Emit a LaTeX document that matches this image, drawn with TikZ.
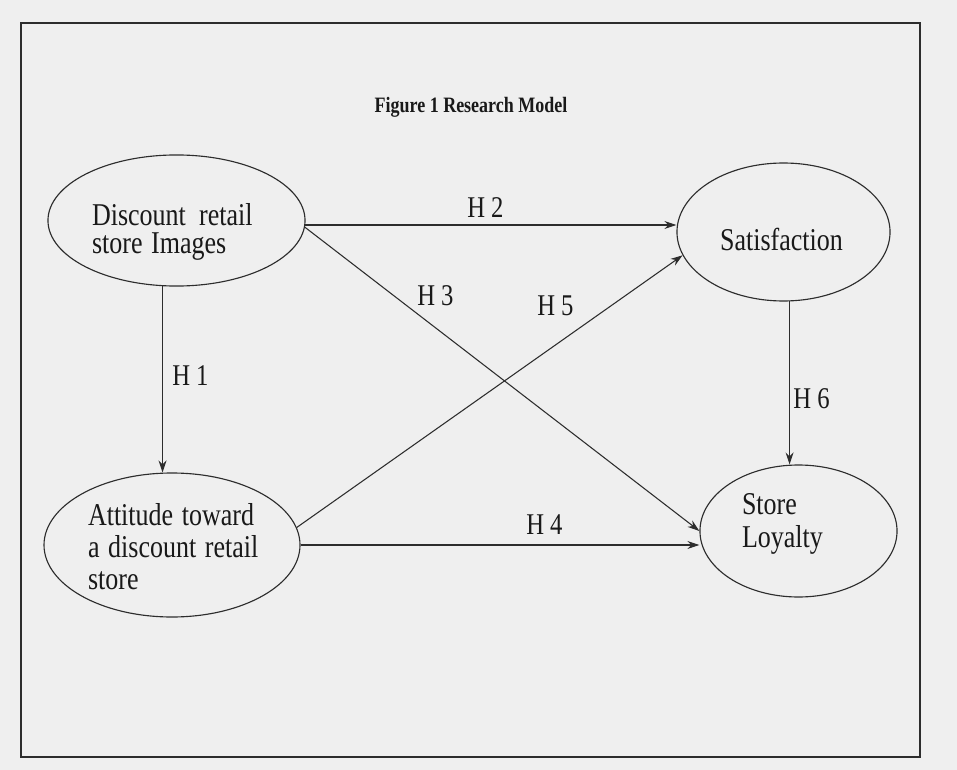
\documentclass[tikz,border=0pt]{standalone}
\usepackage{fontspec}
\usepackage{graphicx}
\setmainfont{Liberation Serif}
\usetikzlibrary{shapes.geometric,arrows.meta}
\definecolor{paper}{RGB}{239,239,239}
\definecolor{ink}{RGB}{45,45,45}
\definecolor{lettering}{RGB}{25,25,25}
\newcommand\tallbox[1]{\scalebox{1}[1.22]{#1}}

\begin{document}
\begin{tikzpicture}[x=0.75pt,y=-0.75pt,
    oval/.style={draw=ink,line width=0.85pt,shape=ellipse,inner sep=0pt},
    words/.style={text=lettering,align=left,inner sep=0pt,font=\fontsize{19.5}{24}\selectfont},
    hyp/.style={text=lettering,inner sep=0pt,anchor=base west,font=\fontsize{18.5}{22}\selectfont},
    link/.style={draw=ink,line width=0.8pt,-{Stealth[length=9pt,width=6pt]}}]
    \fill[paper] (0,0) rectangle (957,770);
    \draw[ink,line width=1.1pt] (21,23) rectangle (920,757);
    \node[text=lettering,anchor=base,font=\bfseries\fontsize{13.5}{16}\selectfont] (title) at (471,113) {\tallbox{Figure 1 Research Model}};

    \node[oval,minimum width=192.8pt,minimum height=98.3pt] (dis) at (176.5,220.5) {};
    \node[oval,minimum width=192pt,minimum height=108pt] (att) at (172,545) {};
    \node[oval,minimum width=159.8pt,minimum height=103.5pt] (sat) at (783.5,232) {};
    \node[oval,minimum width=147.8pt,minimum height=99pt] (loy) at (798.5,531) {};

    \node[words,text width=135pt,font=\fontsize{19.5}{21}\selectfont] (distext) at (182,232) {\tallbox{Discount\hspace{10pt}retail}\\\tallbox{store Images}};
    \node[words,text width=135pt] (atttext) at (178,546.2) {\tallbox{Attitude toward}\\\tallbox{a discount retail}\\\tallbox{store}};
    \node[words] (sattext) at (781.5,239.2) {\tallbox{Satisfaction}};
    \node[words,text width=75pt,font=\fontsize{19.5}{25}\selectfont] (loytext) at (792,524.2) {\tallbox{Store}\\\tallbox{Loyalty}};

    \draw[link] (dis.-102) -- (dis.-102 |- att.north);
    \draw[link] (dis.-2) -- (dis.-2 -| sat.west);
    \draw[link] (dis.-3) -- (loy.west);
    \draw[link] (att.east) -- (att.east -| loy.west);
    \draw[link] (att.8) -- (sat.193);
    \draw[link] (sat.-85) -- (sat.-85 |- loy.north);

    \foreach \n/\x/\y in {1/172/385, 2/467/218, 3/417/305, 4/526/534, 5/537/315, 6/793/408}
    {
    \node[hyp] (h\n) at (\x,\y) {\tallbox{H \n}};
    }
\end{tikzpicture}
\end{document}
